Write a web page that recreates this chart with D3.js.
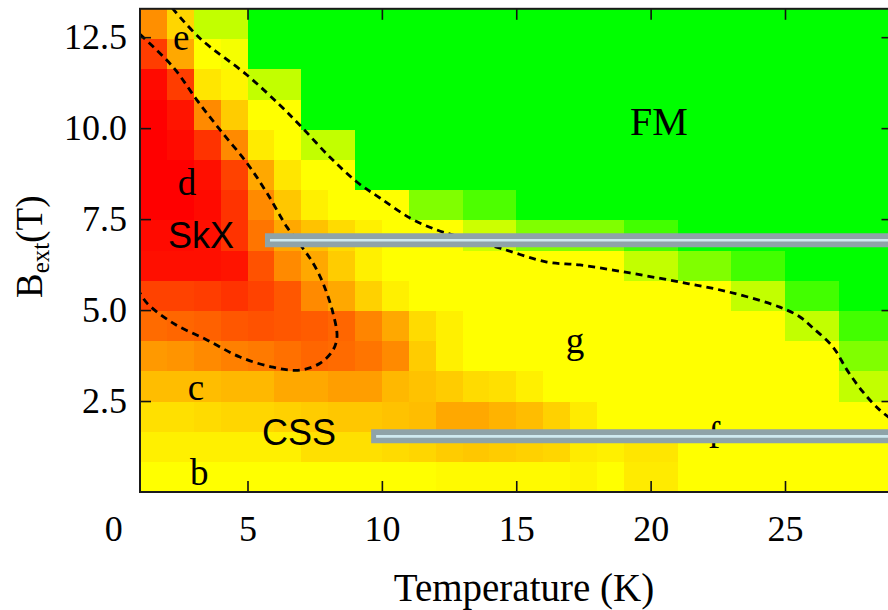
<!DOCTYPE html>
<html>
<head>
<meta charset="utf-8">
<script src="https://cdn.jsdelivr.net/npm/d3@7"></script>
<style>
  body { margin: 0; background: #fff; }
  svg { display: block; }
</style>
</head>
<body>
<script>
// Size of the svg
const w = 888;
const h = 610;

// Plot area (the right edge runs just past the picture)
const plotLeft = 140;
const plotRight = 892.5;
const plotTop = 8.8;
const plotBottom = 492;

// ---- data ----
// left edge of every 1 K column
const temperatures = [1, 2, 3, 4, 5, 6, 7, 8, 9, 10, 11, 12, 13, 14, 15, 16, 17, 18, 19, 20, 21, 22, 23, 24, 25, 26, 27, 28];
// centre of every field row, from the top row down
const fields = [12.86, 12.03, 11.2, 10.37, 9.54, 8.71, 7.88, 7.05, 6.22, 5.39, 4.56, 3.73, 2.9, 2.07, 1.24, 0.41];
const cellHeight = 0.83;

// phase value per cell: 0 = red (SkX), 0.5 = yellow, 1 = green (FM)
const phase = [
  [0.28, 0.42, 0.62, 0.62, 1, 1, 1, 1, 1, 1, 1, 1, 1, 1, 1, 1, 1, 1, 1, 1, 1, 1, 1, 1, 1, 1, 1, 1],
  [0.12, 0.33, 0.5, 0.52, 1, 1, 1, 1, 1, 1, 1, 1, 1, 1, 1, 1, 1, 1, 1, 1, 1, 1, 1, 1, 1, 1, 1, 1],
  [0.02, 0.12, 0.45, 0.48, 0.62, 0.62, 1, 1, 1, 1, 1, 1, 1, 1, 1, 1, 1, 1, 1, 1, 1, 1, 1, 1, 1, 1, 1, 1],
  [0, 0.04, 0.27, 0.4, 0.5, 0.5, 1, 1, 1, 1, 1, 1, 1, 1, 1, 1, 1, 1, 1, 1, 1, 1, 1, 1, 1, 1, 1, 1],
  [0, 0.02, 0.1, 0.27, 0.46, 0.5, 0.62, 0.62, 1, 1, 1, 1, 1, 1, 1, 1, 1, 1, 1, 1, 1, 1, 1, 1, 1, 1, 1, 1],
  [0, 0, 0.03, 0.13, 0.33, 0.45, 0.5, 0.5, 1, 1, 1, 1, 1, 1, 1, 1, 1, 1, 1, 1, 1, 1, 1, 1, 1, 1, 1, 1],
  [0, 0, 0.02, 0.1, 0.27, 0.39, 0.47, 0.5, 0.5, 0.5, 0.75, 0.75, 0.85, 0.85, 1, 1, 1, 1, 1, 1, 1, 1, 1, 1, 1, 1, 1, 1],
  [0.02, 0.02, 0.03, 0.1, 0.23, 0.33, 0.38, 0.43, 0.47, 0.5, 0.5, 0.5, 0.6, 0.6, 0.75, 0.75, 0.75, 0.75, 0.87, 0.87, 1, 1, 1, 1, 1, 1, 1, 1],
  [0.03, 0.03, 0.03, 0.04, 0.16, 0.27, 0.33, 0.4, 0.47, 0.5, 0.5, 0.5, 0.5, 0.5, 0.5, 0.5, 0.5, 0.5, 0.62, 0.62, 0.75, 0.75, 0.87, 0.87, 1, 1, 1, 1],
  [0.13, 0.13, 0.12, 0.1, 0.13, 0.17, 0.27, 0.33, 0.41, 0.47, 0.5, 0.5, 0.5, 0.5, 0.5, 0.5, 0.5, 0.5, 0.5, 0.5, 0.5, 0.5, 0.62, 0.62, 0.87, 0.87, 1, 1],
  [0.21, 0.2, 0.19, 0.17, 0.16, 0.17, 0.18, 0.2, 0.26, 0.33, 0.43, 0.47, 0.5, 0.5, 0.5, 0.5, 0.5, 0.5, 0.5, 0.5, 0.5, 0.5, 0.5, 0.5, 0.62, 0.62, 0.87, 0.87],
  [0.3, 0.29, 0.27, 0.25, 0.24, 0.22, 0.2, 0.21, 0.23, 0.27, 0.4, 0.47, 0.5, 0.5, 0.5, 0.5, 0.5, 0.5, 0.5, 0.5, 0.5, 0.5, 0.5, 0.5, 0.5, 0.5, 0.75, 0.75],
  [0.37, 0.37, 0.37, 0.36, 0.36, 0.33, 0.33, 0.31, 0.31, 0.36, 0.38, 0.4, 0.43, 0.44, 0.47, 0.5, 0.5, 0.5, 0.5, 0.5, 0.5, 0.5, 0.5, 0.5, 0.5, 0.5, 0.62, 0.62],
  [0.44, 0.44, 0.43, 0.42, 0.42, 0.41, 0.4, 0.39, 0.39, 0.38, 0.37, 0.33, 0.33, 0.35, 0.37, 0.41, 0.46, 0.5, 0.5, 0.5, 0.5, 0.5, 0.5, 0.5, 0.5, 0.5, 0.5, 0.5],
  [0.47, 0.47, 0.47, 0.47, 0.47, 0.47, 0.44, 0.44, 0.44, 0.43, 0.42, 0.4, 0.39, 0.4, 0.41, 0.42, 0.46, 0.47, 0.45, 0.45, 0.5, 0.5, 0.5, 0.5, 0.5, 0.5, 0.5, 0.5],
  [0.5, 0.5, 0.5, 0.5, 0.5, 0.5, 0.5, 0.5, 0.5, 0.5, 0.5, 0.49, 0.49, 0.49, 0.49, 0.49, 0.48, 0.5, 0.46, 0.46, 0.5, 0.5, 0.5, 0.5, 0.5, 0.5, 0.5, 0.5]
];

// dashed phase boundaries as [T (K), B (T)]
const fmBoundary = [
  [2.2, 13.3], [3.23, 12.47], [4.98, 11.46], [6.21, 10.63], [6.95, 10.08], [8.07, 9.2],
  [9.07, 8.52], [9.93, 8.08], [11.05, 7.53], [12.05, 7.2], [12.91, 7.01], [14.4, 6.7],
  [16.14, 6.32], [17.37, 6.24], [19.23, 6.02], [21.09, 5.77], [22.95, 5.49], [24.81, 5.08],
  [25.56, 4.81], [26.04, 4.51], [26.79, 3.98], [27.31, 3.35], [27.9, 2.75], [28.53, 2.25], [29, 1.98]
];
const skxBoundary = [
  [1, 12.58], [2.23, 11.68], [3.12, 10.77], [3.98, 9.95], [4.98, 9.04], [5.73, 8.21],
  [6.47, 7.28], [7.02, 6.74], [7.44, 6.29], [7.81, 5.74], [8.18, 4.92], [8.33, 4.26],
  [8.18, 3.9], [7.7, 3.54], [6.95, 3.35], [5.95, 3.43], [4.72, 3.71], [3.49, 4.18],
  [2.23, 4.64], [1.26, 5.19], [1, 5.47]
];

// grey scan bars: start temperature and field
const barStartT = [5.65, 9.6];
const barField = [6.92, 1.53];

// region labels
const labelText = ["e", "d", "SkX", "FM", "g", "c", "CSS", "b", "f"];
const labelT = [2.53, 2.75, 3.27, 20.31, 17.19, 3.08, 6.92, 3.2, 22.36];
const labelB = [12.14, 8.16, 6.7, 9.81, 3.82, 2.53, 1.29, 0.19, 1.21];
const sansLabels = ["SkX", "CSS"];

// tick values
const xTicks = [0, 5, 10, 15, 20, 25];
const yTicks = [2.5, 5, 7.5, 10, 12.5];

// ---- drawing ----
const svg = d3.select("body").append("svg").attr("width", w).attr("height", h);

const xScale = d3.scaleLinear().domain([1, 29]).range([plotLeft, plotRight]);
const yScale = d3.scaleLinear().domain([0, 13.28]).range([plotBottom, plotTop]);

// red -> yellow -> green
const colour = d3.scaleLinear().domain([0, 0.5, 1]).range(["#ff0000", "#ffff00", "#00ff00"]);

svg.append("clipPath").attr("id", "plotClip")
  .append("rect")
  .attr("x", plotLeft).attr("y", plotTop)
  .attr("width", plotRight - plotLeft).attr("height", plotBottom - plotTop);

// heat map cells
const cells = svg.append("g").attr("clip-path", "url(#plotClip)");
phase.forEach(function (row, r) {
  cells.append("g")
    .selectAll("rect")
    .data(row)
    .join("rect")
    .attr("x", (d, i) => xScale(temperatures[i]))
    .attr("y", yScale(fields[r] + cellHeight / 2))
    .attr("width", (d, i) => xScale(temperatures[i] + 1) - xScale(temperatures[i]) + 0.6)
    .attr("height", yScale(fields[r] - cellHeight / 2) - yScale(fields[r] + cellHeight / 2) + 0.6)
    .attr("fill", d => colour(d))
    .attr("shape-rendering", "crispEdges");
});

// dashed boundaries
const line = d3.line()
  .x(d => xScale(d[0]))
  .y(d => yScale(d[1]))
  .curve(d3.curveCatmullRom.alpha(0.5));

svg.append("g").attr("clip-path", "url(#plotClip)")
  .selectAll("path")
  .data([fmBoundary, skxBoundary])
  .join("path")
  .attr("d", line)
  .attr("fill", "none")
  .attr("stroke", "#000")
  .attr("stroke-width", 2.8)
  .attr("stroke-dasharray", "7,5");

const serifFont = "'Liberation Serif', 'Times New Roman', serif";
const sansFont = "'Liberation Sans', Arial, sans-serif";

// region labels
svg.append("g")
  .selectAll("text")
  .data(labelText)
  .join("text")
  .attr("x", (d, i) => xScale(labelT[i]))
  .attr("y", (d, i) => yScale(labelB[i]))
  .attr("text-anchor", "middle")
  .style("font-family", d => sansLabels.includes(d) ? sansFont : serifFont)
  .style("font-size", d => (d === "FM" ? 40 : (sansLabels.includes(d) ? 36 : 37)) + "px")
  .attr("fill", "#000")
  .text(d => d);

// grey bars (drawn over the labels, like the "f")
const bars = svg.append("g").attr("clip-path", "url(#plotClip)");
barField.forEach(function (b, i) {
  bars.append("line")
    .attr("x1", xScale(barStartT[i])).attr("x2", xScale(29))
    .attr("y1", yScale(b)).attr("y2", yScale(b))
    .attr("stroke", "#8fa3a8")
    .attr("stroke-width", 14);
  bars.append("line")
    .attr("x1", xScale(barStartT[i]) + 5).attr("x2", xScale(29))
    .attr("y1", yScale(b)).attr("y2", yScale(b))
    .attr("stroke", "#cfeaf0")
    .attr("stroke-width", 2.6);
});

// axes
const xAxis = d3.axisBottom(xScale).tickValues(xTicks).tickSizeInner(-11).tickSizeOuter(0).tickPadding(23);
const gx = svg.append("g").attr("transform", "translate(0," + plotBottom + ")").call(xAxis);
gx.select(".domain").remove();
gx.selectAll(".tick").filter(d => d === 0).select("line").remove();

const yAxis = d3.axisLeft(yScale).tickValues(yTicks).tickFormat(d3.format(".1f")).tickSizeInner(-11).tickSizeOuter(0).tickPadding(13);
const gy = svg.append("g").attr("transform", "translate(" + plotLeft + ",0)").call(yAxis);
gy.select(".domain").remove();

const gTop = svg.append("g").attr("transform", "translate(0," + plotTop + ")")
  .call(d3.axisTop(xScale).tickValues(xTicks.filter(d => d > 0)).tickFormat("").tickSizeInner(-11).tickSizeOuter(0));
gTop.select(".domain").remove();

const gRight = svg.append("g").attr("transform", "translate(" + plotRight + ",0)")
  .call(d3.axisRight(yScale).tickValues(yTicks).tickFormat("").tickSizeInner(-11).tickSizeOuter(0));
gRight.select(".domain").remove();

svg.selectAll(".tick line").attr("stroke", "#111").attr("stroke-width", 1.6);
svg.selectAll(".tick text")
  .style("font-family", serifFont)
  .style("font-size", "36px")
  .attr("fill", "#000");

// frame
svg.append("rect")
  .attr("x", plotLeft).attr("y", plotTop)
  .attr("width", plotRight - plotLeft).attr("height", plotBottom - plotTop)
  .attr("fill", "none")
  .attr("stroke", "#1a1a1a")
  .attr("stroke-width", 2);

// axis titles
svg.append("text")
  .attr("x", 524)
  .attr("y", 601)
  .attr("text-anchor", "middle")
  .style("font-family", serifFont)
  .style("font-size", "39px")
  .text("Temperature (K)");

const yTitle = svg.append("text")
  .attr("transform", "translate(42,298) rotate(-90)")
  .style("font-family", serifFont)
  .style("font-size", "37px");
yTitle.append("tspan").text("B");
yTitle.append("tspan").style("font-size", "25px").attr("dy", 7).text("ext");
yTitle.append("tspan").attr("dy", -7).text("(T)");
</script>
</body>
</html>
